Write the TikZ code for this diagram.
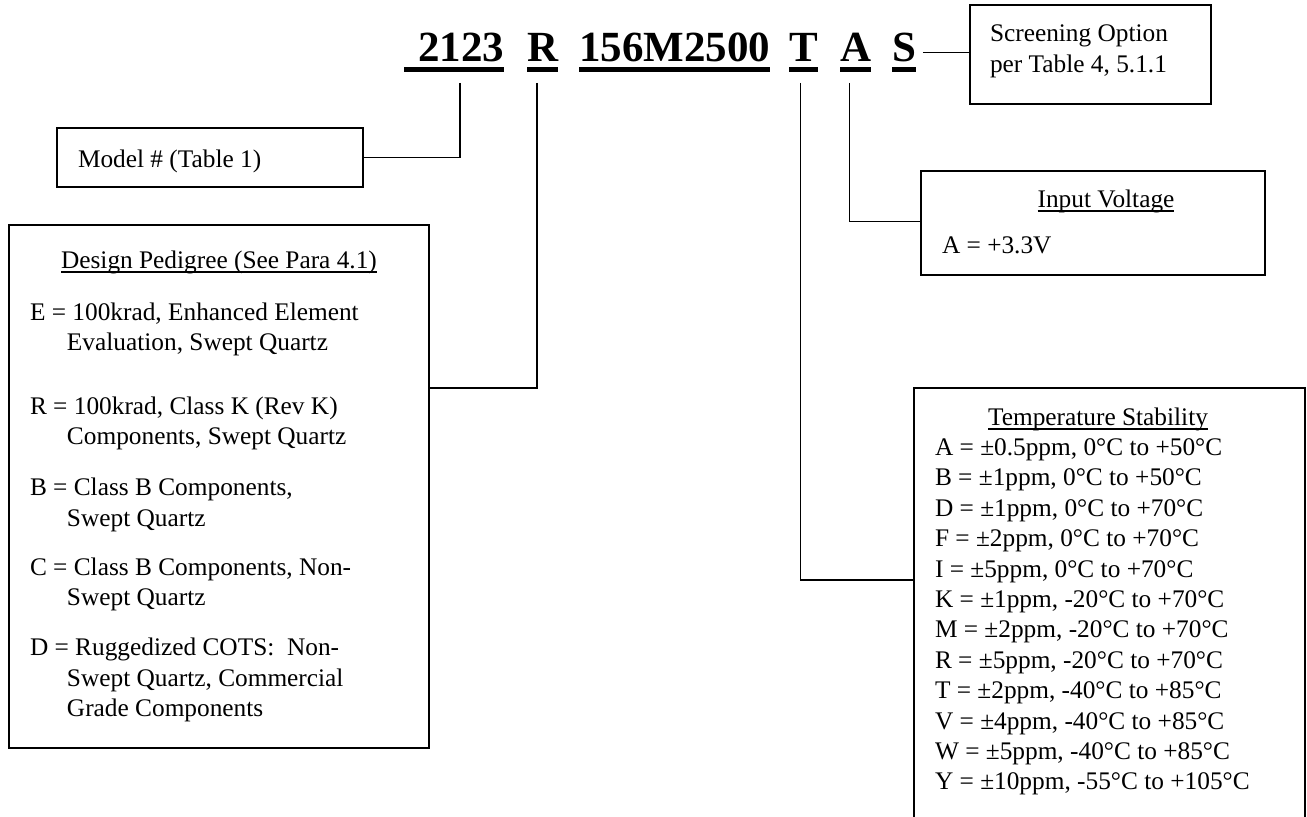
\documentclass[tikz,border=0pt]{standalone}
\usepackage{fontspec}
\setmainfont{Liberation Serif}
\newsavebox{\ulsave}
\newcommand{\ulbox}[3]{\sbox{\ulsave}{#3}\rlap{\rule[-\dimexpr #1+#2\relax]{\wd\ulsave}{#2}}\usebox{\ulsave}}
\newcommand{\codeul}[1]{\ulbox{3.75pt}{3.75pt}{#1}}
\newcommand{\headul}[1]{\ulbox{2.6pt}{0.8pt}{#1}}
\newcommand{\bodyfont}{\fontsize{19pt}{22.8pt}\selectfont}
\newcommand{\padL}{\hspace*{15.75pt}}
\newcommand{\padH}{\hspace*{43.5pt}}
\newcommand{\entrygap}[1]{\par\vspace{#1}}
\tikzset{
  code/.style={font=\fontsize{32.25pt}{38pt}\selectfont\bfseries, inner xsep=0pt, inner ysep=8.25pt,
    outer sep=0pt, text height=22pt, text depth=7.5pt, anchor=base west},
  box/.style={draw, line width=1.2pt, inner sep=0pt, outer sep=0pt, anchor=north west},
  wire/.style={line width=1.2pt},
}
\begin{document}
\begin{tikzpicture}[x=0.75pt,y=-0.75pt]
\useasboundingbox (0,0) rectangle (1307,817);
% part-number code
\node[code] (c1) at (404,62) {\codeul{\kern10.5pt 2123}};
\node[code] (c2) at (527,62) {\codeul{R}};
\node[code] (c3) at (579,62) {\codeul{156M2500}};
\node[code] (c4) at (789,62) {\codeul{T}};
\node[code] (c5) at (840,62) {\codeul{A}};
\node[code] (c6) at (892,62) {\codeul{S}};
% boxes
\node[box] (screen) at (970,5) {\parbox[t][74.25pt][t]{180.75pt}{\bodyfont
  \hspace*{15pt}\rule{0pt}{27.75pt}Screening Option\\
  \hspace*{15pt}per Table 4, 5.1.1}};
\node[box] (model) at (57,128) {\parbox[t][44.25pt][t]{229.5pt}{\bodyfont
  \padL\rule{0pt}{29.25pt}Model \# (Table 1)}};
\node[box] (input) at (921,171) {\parbox[t][78pt][t]{258pt}{\bodyfont
  \hspace*{138.75pt}\makebox[0pt][c]{\rule{0pt}{27pt}\headul{Input Voltage}}\par
  \vspace{11.7pt}
  \padL A = +3.3V}};
\node[box] (design) at (9,225) {\parbox[t][392.25pt][t]{315pt}{\bodyfont
  \makebox[315pt][c]{\rule{0pt}{32.25pt}\headul{Design Pedigree (See Para 4.1)}}\par
  \vspace{16.2pt}
  \padL E = 100krad, Enhanced Element\\
  \padH Evaluation, Swept Quartz\entrygap{25.2pt}
  \padL R = 100krad, Class K (Rev K)\\
  \padH Components, Swept Quartz\entrygap{15.45pt}
  \padL B = Class B Components,\\
  \padH Swept Quartz\entrygap{13.95pt}
  \padL C = Class B Components, Non-\\
  \padH Swept Quartz\entrygap{14.7pt}
  \padL D = Ruggedized COTS:\ \ Non-\\
  \padH Swept Quartz, Commercial\\
  \padH Grade Components\par}};
\node[box] (temp) at (914,388) {\parbox[t][331.5pt][t]{293.25pt}{\bodyfont
  \padL\makebox[244.5pt][c]{\rule{0pt}{27.75pt}\headul{Temperature Stability}}\\
  \padL A = ±0.5ppm, 0°C to +50°C\\
  \padL B = ±1ppm, 0°C to +50°C\\
  \padL D = ±1ppm, 0°C to +70°C\\
  \padL F = ±2ppm, 0°C to +70°C\\
  \padL I = ±5ppm, 0°C to +70°C\\
  \padL K = ±1ppm, -20°C to +70°C\\
  \padL M = ±2ppm, -20°C to +70°C\\
  \padL R = ±5ppm, -20°C to +70°C\\
  \padL T = ±2ppm, -40°C to +85°C\\
  \padL V = ±4ppm, -40°C to +85°C\\
  \padL W = ±5ppm, -40°C to +85°C\\
  \padL Y = ±10ppm, -55°C to +105°C}};
% connectors
\draw[wire] ([xshift=4.5pt]c1.south) |- (model.east);
\draw[wire] ([xshift=-4.1pt]c2.south) |- ([yshift=-122.25pt]design.north east);
\draw[wire] ([xshift=-2.1pt]c4.south) |- ([yshift=-144pt]temp.north west);
\draw[wire] ([xshift=-4.4pt]c5.south) |- ([yshift=-37.9pt]input.north west);
\draw[wire] ([xshift=5.25pt]c6.east) -- (c6.east -| screen.west);
\end{tikzpicture}
\end{document}
